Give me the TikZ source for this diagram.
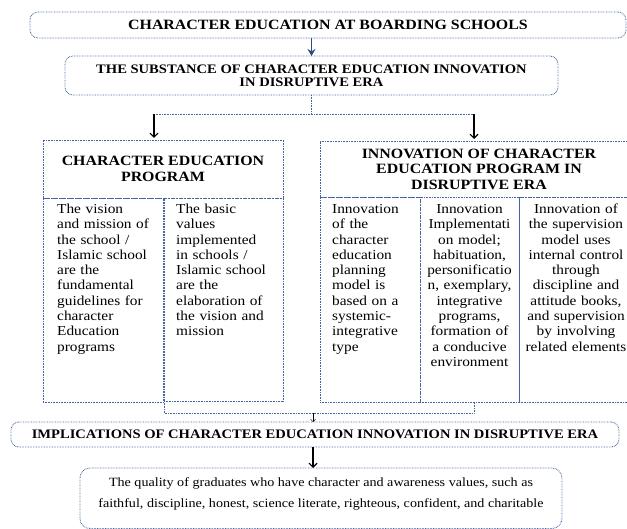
\documentclass[tikz,border=0pt]{standalone}
\usepackage{fontspec}
\setmainfont{Liberation Serif}[FakeStretch=1.12]
\usetikzlibrary{arrows.meta}
\definecolor{dotblue}{RGB}{68,100,160}
\definecolor{arrblue}{RGB}{45,75,125}
\begin{document}
\begin{tikzpicture}[x=1pt,y=-1pt,
  dotbox/.style={draw=dotblue, line width=0.9pt, dash pattern=on 0.7pt off 0.9pt, inner sep=0pt, outer sep=0pt},
  rbox/.style={dotbox, rounded corners=8pt},
  dotline/.style={draw=dotblue, line width=0.9pt, dash pattern=on 0.7pt off 0.9pt},
  barrow/.style={draw=black, line width=1.1pt, -{Straight Barb[length=4pt,width=8pt,line width=1.1pt]}},
  sarrow/.style={draw=black, line width=0.5pt, -{Straight Barb[length=2.5pt,width=5pt,line width=0.5pt]}},
  tarrow/.style={draw=arrblue, line width=1.8pt, -{Stealth[length=7pt,width=8pt]}},
  coltext/.style={inner sep=0pt, font={\fontsize{13.7}{15.3}\selectfont}},
  headtext/.style={font={\fontsize{14.2}{15.5}\selectfont\bfseries}, align=center}
]
\useasboundingbox (0,0) rectangle (627,529);

% top
\node[rbox, minimum width=596pt, minimum height=26pt, font={\fontsize{14.2}{16}\selectfont\bfseries}] (top) at (328,25) {CHARACTER EDUCATION AT BOARDING SCHOOLS};
\node[rbox, minimum width=493pt, minimum height=39pt, align=center, font={\fontsize{13}{13}\selectfont\bfseries}] (sub) at (311.5,75.5) {THE SUBSTANCE OF CHARACTER EDUCATION INNOVATION\\IN DISRUPTIVE ERA};
\draw[tarrow] (sub.north |- top.south) -- (sub.north);

\coordinate (hl) at (154,114);
\coordinate (hr) at (474,114);
\coordinate (hm) at (sub.south |- hl);
\draw[dotline] (sub.south) -- (hm);
\draw[dotline] (hl) -- (hr);

% left block
\node[dotbox, minimum width=240pt, minimum height=58pt, headtext] (lhead) at (163,169) {CHARACTER EDUCATION\\PROGRAM};
\node[dotbox, minimum width=120.5pt, minimum height=204pt] (lc1) at (103.25,300) {};
\node[dotbox, minimum width=119pt, minimum height=203pt] (lc2) at (223.5,299.5) {};
\node[coltext, anchor=base west, text width=110pt, align=left] (lt1) at (57,213.5) {The vision\\and mission of\\the school /\\Islamic school\\are the\\fundamental\\guidelines for\\character\\Education\\programs};
\node[coltext, anchor=base west, text width=110pt, align=left] (lt2) at (176,213.5) {The basic\\values\\implemented\\in schools /\\Islamic school\\are the\\elaboration of\\the vision and\\mission};

% right block
\node[dotbox, minimum width=318pt, minimum height=56pt, headtext] (rhead) at (479,169) {INNOVATION OF CHARACTER\\EDUCATION PROGRAM IN\\DISRUPTIVE ERA};
\node[dotbox, minimum width=100pt, minimum height=205pt] (rc1) at (370,299.5) {};
\node[dotbox, minimum width=99pt, minimum height=205pt] (rc2) at (469.5,299.5) {};
\node[dotbox, minimum width=119pt, minimum height=205pt] (rc3) at (578.5,299.5) {};
\node[coltext, anchor=base west, text width=95pt, align=left] (rt1) at (332,213.5) {Innovation\\of the\\character\\education\\planning\\model is\\based on a\\systemic-\\integrative\\type};
\node[coltext, anchor=base, text width=110pt, align=center] (rt2) at (469.5,213.5) {Innovation\\Implementati\\on model;\\habituation,\\personificatio\\n, exemplary,\\integrative\\programs,\\formation of\\a conducive\\environment};
\node[coltext, anchor=base, text width=120pt, align=center] (rt3) at (576,213.5) {Innovation of\\the supervision\\model uses\\internal control\\through\\discipline and\\attitude books,\\and supervision\\by involving\\related elements};

\draw[barrow, shorten >=2pt] (hl) -- (hl |- lhead.north);
\draw[barrow, shorten >=2pt] (hr) -- (hr |- rhead.north);

% bottom connector
\coordinate (bl) at (164,413);
\coordinate (br) at (474,413);
\coordinate (bm) at (313,413);
\draw[dotline] (lc2.south west) -- (bl) -- (br) -- (br |- rc2.south);

\node[rbox, minimum width=608pt, minimum height=25pt, font={\fontsize{13}{14}\selectfont\bfseries}] (impl) at (315,434.5) {IMPLICATIONS OF CHARACTER EDUCATION INNOVATION IN DISRUPTIVE ERA};
\draw[sarrow] (bm) -- (bm |- impl.north);

\node[rbox, rounded corners=10pt, minimum width=482pt, minimum height=60.5pt] (fin) at (321,498.25) {};
\node[align=center, inner sep=0pt, font={\fontsize{12.6}{21}\selectfont}] (fint) at (321,494) {The quality of graduates who have character and awareness values, such as\\faithful, discipline, honest, science literate, righteous, confident, and charitable};
\draw[barrow] (bm |- impl.south) -- (bm |- fin.north);
\end{tikzpicture}
\end{document}
